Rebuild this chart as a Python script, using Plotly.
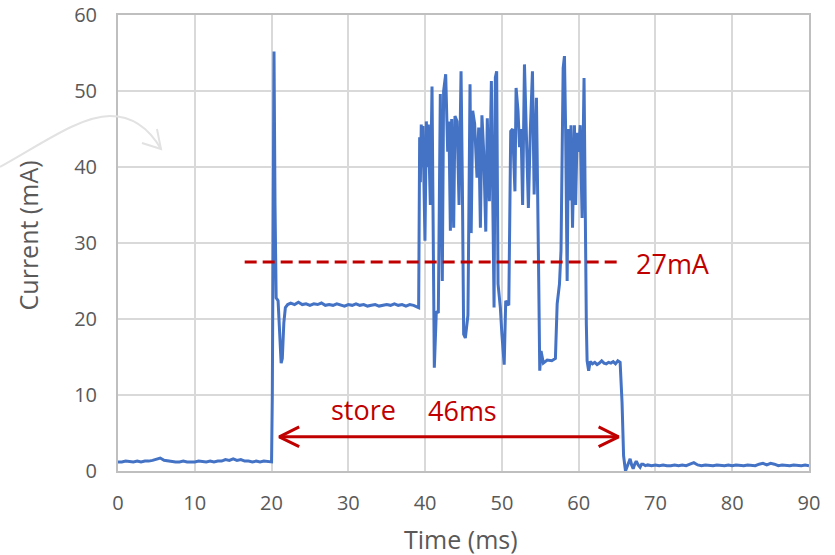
import plotly.graph_objects as go

# ---------------- data ----------------
# idle before the store operation
idle_t = [0.0, 0.5, 1.0, 1.5, 2.0, 2.5, 3.0, 3.5, 4.0, 4.5,
          5.0, 5.5, 6.0, 6.5, 7.0, 7.5, 8.0, 8.5, 9.0, 9.5,
          10.0, 10.5, 11.0, 11.5, 12.0, 12.5, 13.0, 13.5, 14.0, 14.5,
          15.0, 15.5, 16.0, 16.5, 17.0, 17.5, 18.0, 18.5, 19.0, 19.5, 20.0]
idle_i = [1.2, 1.2, 1.3, 1.2, 1.2, 1.3, 1.2, 1.3, 1.3, 1.4,
          1.5, 1.7, 1.4, 1.3, 1.3, 1.2, 1.2, 1.3, 1.2, 1.2,
          1.2, 1.3, 1.2, 1.2, 1.3, 1.2, 1.3, 1.3, 1.5, 1.4,
          1.6, 1.4, 1.5, 1.3, 1.3, 1.2, 1.3, 1.2, 1.3, 1.2, 1.2]

# wake-up spike
wake_t = [20.1, 20.2, 20.32, 20.45, 20.6, 20.85, 21.05, 21.25, 21.4, 21.6, 21.8, 22.1]
wake_i = [10.0, 40.0, 55.2, 35.0, 22.8, 22.4, 19.0, 14.2, 14.8, 19.5, 21.5, 21.9]

# steady level
steady_t = [22.5, 23.0, 23.5, 24.0, 24.5, 25.0, 25.5, 26.0, 26.5, 27.0,
            27.5, 28.0, 28.5, 29.0, 29.5, 30.0, 30.5, 31.0, 31.5, 32.0,
            32.5, 33.0, 33.5, 34.0, 34.5, 35.0, 35.5, 36.0, 36.5, 37.0,
            37.5, 38.0, 38.5, 39.0]
steady_i = [22.1, 21.9, 22.2, 21.9, 22.0, 21.8, 22.0, 21.9, 22.1, 21.8,
            21.9, 21.8, 22.0, 21.9, 21.7, 21.9, 21.8, 22.0, 21.8, 21.9,
            21.7, 21.8, 21.9, 21.7, 21.8, 21.9, 21.8, 22.0, 21.8, 21.9,
            21.7, 21.9, 21.8, 21.6]

# write bursts
burst_t = [39.16, 39.29, 39.38, 39.50, 39.62, 39.72, 39.98, 40.16, 40.30, 40.42,
           40.68, 40.90, 41.20, 41.46, 41.72, 41.85, 41.98, 42.24, 42.41, 42.68,
           42.94, 43.10, 43.29, 43.46, 43.72, 43.89, 44.16, 44.42, 44.68, 44.85,
           45.02, 45.24, 45.58, 45.85, 46.00, 46.20, 46.45, 46.76, 46.98, 47.20,
           47.40, 47.63, 47.90, 48.10, 48.37, 48.63, 48.80, 48.98, 49.15, 49.32,
           49.50, 49.80, 50.00, 50.30, 50.50, 50.90, 51.15, 51.40, 51.70, 51.85,
           52.10, 52.30, 52.50, 52.70, 52.94, 53.20, 53.45, 53.70, 53.98, 54.20,
           54.50, 54.80, 54.93, 55.10, 55.40, 55.90, 56.50, 56.97, 57.20, 57.50,
           57.70, 57.98, 58.15, 58.30, 58.50, 58.67, 58.84, 59.00, 59.20, 59.45,
           59.60, 59.80, 60.00, 60.20, 60.45, 60.70, 60.85, 61.00, 61.10, 61.30]
burst_i = [21.5, 43.9, 38.0, 45.6, 40.0, 45.4, 30.3, 46.0, 40.0, 45.6,
           35.0, 50.6, 13.6, 21.0, 20.8, 35.0, 49.6, 25.0, 50.0, 52.2,
           42.0, 46.0, 31.6, 46.3, 32.0, 46.7, 46.0, 35.0, 52.6, 38.0,
           18.0, 17.5, 20.5, 50.9, 31.3, 47.4, 45.7, 38.6, 45.2, 32.0,
           46.8, 42.0, 31.5, 46.4, 35.5, 51.3, 31.6, 21.5, 51.8, 52.6,
           24.6, 21.5, 18.0, 14.0, 22.4, 21.8, 44.7, 45.0, 36.8, 50.4,
           47.4, 42.6, 45.0, 35.0, 53.5, 42.5, 34.6, 44.7, 52.6, 36.4,
           49.1, 25.0, 13.2, 15.8, 14.2, 14.6, 14.5, 14.8, 22.0, 24.6,
           29.0, 53.0, 54.6, 45.0, 25.0, 45.0, 35.6, 45.5, 32.0, 45.5,
           35.0, 44.5, 42.0, 45.5, 33.3, 51.7, 28.9, 19.3, 14.5, 13.2]

# final plateau
tail_t = [61.5, 61.8, 62.1, 62.4, 62.7, 63.0, 63.3, 63.6, 63.9, 64.2, 64.5, 64.8, 65.1, 65.4]
tail_i = [14.4, 14.1, 14.3, 14.0, 14.2, 14.5, 14.2, 14.1, 14.3, 14.2, 14.4, 14.1, 14.5, 14.3]

# back to sleep
off_t = [65.65, 65.85, 66.1, 66.4, 66.7, 66.9, 67.1, 67.3, 67.5, 67.75,
         68.0, 68.2, 68.4, 68.7, 69.0, 69.5,
         70.0, 70.5, 71.0, 71.5, 72.0, 72.5, 73.0, 73.5, 74.0, 74.5,
         75.0, 75.5, 76.0, 76.5, 77.0, 77.5, 78.0, 78.5, 79.0, 79.5,
         80.0, 80.5, 81.0, 81.5, 82.0, 82.5, 83.0, 83.5, 84.0, 84.5,
         85.0, 85.5, 86.0, 86.5, 87.0, 87.5, 88.0, 88.5, 89.0, 89.5, 90.0]
off_i = [9.0, 2.0, 0.0, 0.9, 1.6, 0.8, 0.3, 0.9, 1.3, 0.8,
         0.5, 0.9, 0.9, 0.7, 0.8, 0.7,
         0.8, 0.7, 0.8, 0.7, 0.7, 0.8, 0.7, 0.8, 0.7, 0.9,
         1.1, 0.8, 0.7, 0.8, 0.7, 0.7, 0.8, 0.7, 0.7, 0.8,
         0.7, 0.8, 0.7, 0.7, 0.8, 0.7, 0.7, 0.9, 1.0, 0.8,
         1.0, 0.9, 0.7, 0.8, 0.7, 0.7, 0.8, 0.7, 0.7, 0.8, 0.7]

# annotations (data units)
avg_level = 27.5          # mA, dashed reference line
avg_span = [16.5, 65.6]   # ms
avg_label = "27mA"
store_span = [21.0, 65.2]  # ms, double arrow
store_level = 4.5          # mA
store_label = "store"
dur_label = "46ms"

x_ticks = [0, 10, 20, 30, 40, 50, 60, 70, 80, 90]
y_ticks = [0, 10, 20, 30, 40, 50, 60]

# ---------------- figure ----------------
time_ms = idle_t + wake_t + steady_t + burst_t + tail_t + off_t
current_ma = idle_i + wake_i + steady_i + burst_i + tail_i + off_i

RED = "#C00000"
BLUE = "#4472C4"
GRAY_TXT = "#595959"
FONT = "Open Sans, Noto Sans, sans-serif"

fig = go.Figure()
fig.add_trace(go.Scatter(x=time_ms, y=current_ma, mode="lines",
                         line=dict(color=BLUE, width=3), hoverinfo="skip"))

# dashed average line
fig.add_trace(go.Scatter(x=avg_span, y=[avg_level, avg_level], mode="lines",
                         line=dict(color=RED, width=3, dash="12px,6px"), hoverinfo="skip"))

# double-headed arrow
fig.add_trace(go.Scatter(x=store_span, y=[store_level, store_level], mode="lines",
                         line=dict(color=RED, width=3), hoverinfo="skip"))
hx, hy = 2.6, 1.3
L, R = store_span
fig.add_trace(go.Scatter(
    x=[L + hx, L, L + hx, None, R - hx, R, R - hx],
    y=[store_level + hy, store_level, store_level - hy, None,
       store_level + hy, store_level, store_level - hy],
    mode="lines", line=dict(color=RED, width=3), hoverinfo="skip"))

ann_font = dict(family=FONT, size=27, color=RED)
annotations = [
    dict(x=32.0, y=8.1, xref="x", yref="y", text=store_label, showarrow=False,
         font=ann_font, xanchor="center", yanchor="middle"),
    dict(x=44.9, y=7.9, xref="x", yref="y", text=dur_label, showarrow=False,
         font=ann_font, xanchor="center", yanchor="middle"),
    dict(x=72.3, y=27.3, xref="x", yref="y", text=avg_label, showarrow=False,
         font=ann_font, xanchor="center", yanchor="middle"),
    dict(x=0.497, y=-0.150, xref="paper", yref="paper", text="Time (ms)", showarrow=False,
         font=dict(family=FONT, size=25, color=GRAY_TXT), xanchor="center", yanchor="middle"),
    dict(x=-0.130, y=0.517, xref="paper", yref="paper", text="Current (mA)", showarrow=False,
         textangle=-90,
         font=dict(family=FONT, size=25, color=GRAY_TXT), xanchor="center", yanchor="middle"),
]

# decorative light-gray curved arrow at top-left (pixel -> paper)
PL, PR, PT, PB = 118, 809, 15, 471
def px(xp, yp):
    return f"{(xp - PL) / (PR - PL):.4f},{(PB - yp) / (PB - PT):.4f}"

curve = (f"M {px(0,167)} C {px(40,145)} {px(80,116)} {px(110,116)} "
         f"C {px(135,116)} {px(150,130)} {px(161,149)}")
head = f"M {px(142,143)} L {px(161,149)} L {px(157,129)}"
shapes = [
    dict(type="path", path=curve, xref="paper", yref="paper",
         line=dict(color="#E2E2E2", width=2)),
    dict(type="path", path=head, xref="paper", yref="paper",
         line=dict(color="#E2E2E2", width=2)),
]

axis_common = dict(showgrid=True, gridcolor="#D9D9D9", gridwidth=2,
                   showline=True, linecolor="#BFBFBF", linewidth=2, mirror=True,
                   zeroline=False, ticks="", automargin=False,
                   tickfont=dict(family=FONT, size=20, color=GRAY_TXT))

fig.update_layout(
    width=835, height=555,
    margin=dict(l=PL, r=835 - PR, t=PT, b=555 - PB, autoexpand=False),
    paper_bgcolor="white", plot_bgcolor="white",
    showlegend=False,
    annotations=annotations,
    shapes=shapes,
    xaxis=dict(range=[0, 90], tickvals=x_ticks, ticklabelstandoff=13, **axis_common),
    yaxis=dict(range=[0, 60], tickvals=y_ticks, ticklabelstandoff=15, **axis_common),
)

fig.write_html("out.html")
